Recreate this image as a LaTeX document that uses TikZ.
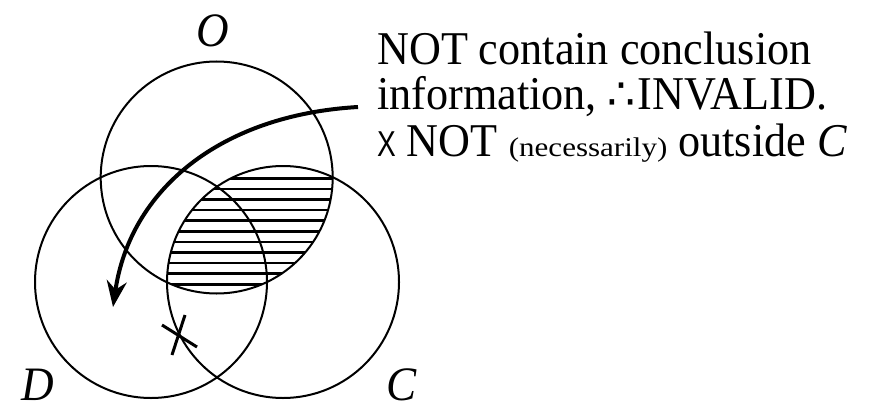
\documentclass[tikz,border=0pt]{standalone}
\usepackage{fontspec}
\setmainfont[FakeStretch=0.94]{Liberation Serif}
\newfontfamily\sansx[FakeStretch=0.78]{Liberation Sans}
\newfontfamily\smallx[FakeStretch=1.15]{Liberation Serif}
\newfontfamily\symx{DejaVu Sans}
\usetikzlibrary{arrows.meta}

\tikzset{
  setline/.style={line width=2pt},
  hatchline/.style={line width=2.7pt},
  setname/.style={inner sep=0pt,anchor=base,font=\fontsize{48}{48}\selectfont\itshape},
  remark/.style={inner sep=0pt,anchor=base west,font=\fontsize{47}{47}\selectfont}
}

\begin{document}
\begin{tikzpicture}[x=1pt,y=-1pt]
\useasboundingbox (0,0) rectangle (888,409);

% centres of the sets
\coordinate (o) at (216.7,177.5);
\coordinate (d) at (151,282);
\coordinate (c) at (283,282);

% shaded O and C
\begin{scope}
\clip (o) circle (116pt);
\clip (c) circle (116pt);
\foreach \y in {178.3,188.9,...,290} \draw[hatchline] (150,\y) -- (350,\y);
\end{scope}

% Our circles
\draw[setline] (o) circle (116pt);
\draw[setline] (d) circle (116pt);
\draw[setline] (c) circle (116pt);

\node[setname] (oname) at (213,47) {O};
\node[setname] (dname) at (38,400) {D};
\node[setname] (cname) at (402,400) {C};

% the X on the line
\draw[line width=3pt] (162,325) -- (197,347);
\draw[line width=3pt] (185,315) -- (172,355);

% comment
\node[remark] (first) at (377,65) {NOT contain conclusion};
\node[remark] (second) at (377,110) {information, {\symx\fontsize{44}{44}\selectfont ∴}\hspace{2pt}INVALID.};
\node[remark] (third) at (377,157) {{\sansx\fontsize{36}{36}\selectfont X} NOT {\smallx\fontsize{27}{27}\selectfont (necessarily)} outside \textit{C}};

\coordinate (tail) at (358,107);
\coordinate (tip) at (113,307);
\draw[line width=4pt,-{Stealth[length=26pt,width=20pt]}] (tail) .. controls (220,115) and (130,190) .. (tip);

\end{tikzpicture}
\end{document}
